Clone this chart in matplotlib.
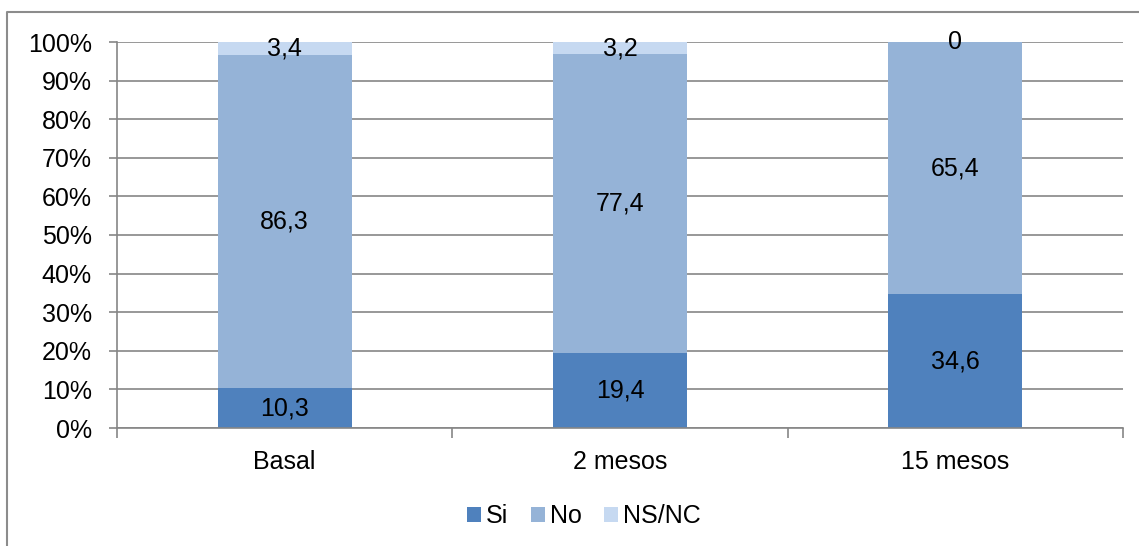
import matplotlib
matplotlib.use("Agg")
from matplotlib import pyplot as plt
from matplotlib.lines import Line2D
import numpy as np

plt.rcParams['font.family'] = ['Liberation Sans', 'DejaVu Sans']

categories = ["Basal", "2 mesos", "15 mesos"]
si = [10.3, 19.4, 34.6]
no = [86.3, 77.4, 65.4]
nsnc = [3.4, 3.2, 0]
series_names = ["Si", "No", "NS/NC"]
colors = ["#4F81BD", "#95B3D7", "#C6D9F1"]

FS = 18

fig = plt.figure(figsize=(11.39, 5.46), dpi=100)
ax = fig.add_axes([117 / 1139, 1 - 428 / 546, (1123 - 117) / 1139, (428 - 42) / 546])

x = np.arange(len(categories))
bottom = np.zeros(len(categories))
for vals, name, col in zip([si, no, nsnc], series_names, colors):
    bars = ax.bar(x, vals, width=0.4, bottom=bottom, color=col, label=name, zorder=2)
    for b, v, b0 in zip(bars, vals, bottom):
        ax.text(b.get_x() + b.get_width() / 2, b0 + v / 2, f"{v:g}".replace(".", ","),
                ha="center", va="center", fontsize=FS, color="black", zorder=3)
    bottom = bottom + np.array(vals)

ax.set_xlim(-0.5, 2.5)
ax.set_ylim(0, 100)
ax.set_yticks(np.arange(0, 101, 10))
ax.set_yticklabels([f"{v}%" for v in range(0, 101, 10)], fontsize=FS)
ax.set_xticks(x)
ax.set_xticklabels(categories, fontsize=FS)
ax.tick_params(axis="x", length=0, pad=16)
ax.set_xticks([-0.5, 0.5, 1.5, 2.5], minor=True)
ax.tick_params(axis="x", which="minor", length=7, width=1.2, color="#868686", direction="out")
ax.tick_params(axis="y", length=6, width=1.2, color="#868686", direction="out", pad=12)

ax.grid(axis="y", color="#868686", linewidth=1.2, zorder=0)
ax.set_axisbelow(True)
for s in ["top", "right"]:
    ax.spines[s].set_visible(False)
for s in ["left", "bottom"]:
    ax.spines[s].set_color("#868686")
    ax.spines[s].set_linewidth(1.2)

fig.legend(loc="center", bbox_to_anchor=(584 / 1139, 1 - 516 / 546), ncol=3, frameon=False,
           fontsize=FS, handlelength=0.56, handleheight=0.56, handletextpad=0.2,
           columnspacing=0.9)

# outer chart border (only left and top edges visible)
fig.add_artist(Line2D([7 / 1139, 7 / 1139, 1.0], [0.0, 1 - 12 / 546, 1 - 12 / 546],
                      transform=fig.transFigure, color="#8c8c8c", linewidth=1.5))

fig.savefig("out.png", dpi=100)
